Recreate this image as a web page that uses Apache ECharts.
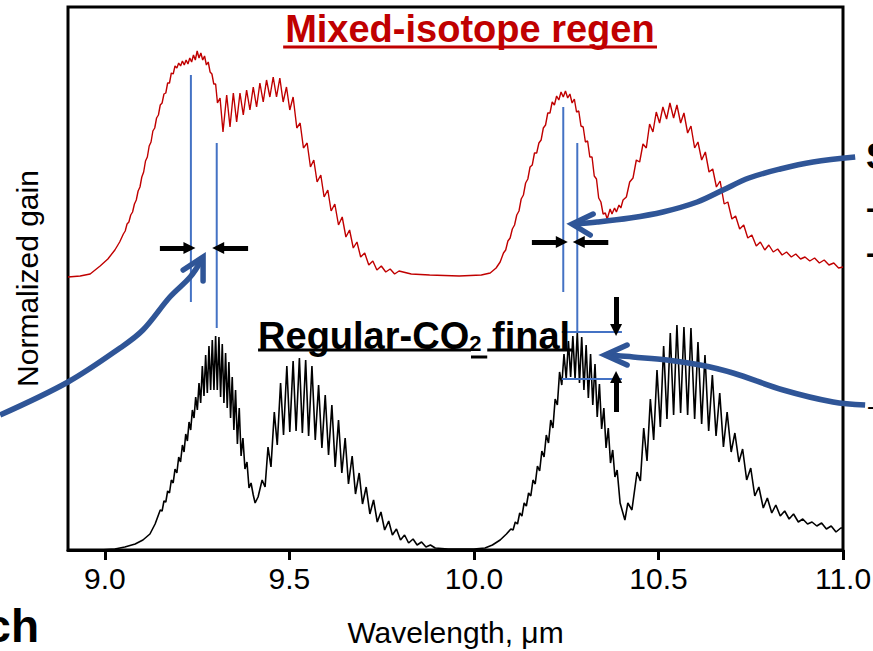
<!DOCTYPE html>
<html><head><meta charset="utf-8">
<script src="https://cdn.jsdelivr.net/npm/echarts@6/dist/echarts.min.js"></script>
<style>html,body{margin:0;padding:0;background:#fff}#c{width:873px;height:651px}</style>
</head><body><div id="c"></div>
<script>
const FONT = 'Liberation Sans, Arial, Helvetica, sans-serif';
const xTicks = [9.0, 9.5, 10.0, 10.5, 11.0];

// Mixed-isotope regen gain spectrum [wavelength µm, normalized gain]
const redRegen = [
[8.900,2.73],[8.933,2.74],[8.960,2.76],[8.987,2.84],[9.008,2.91],[9.027,3.00],[9.040,3.08],
[9.050,3.16],[9.055,3.19],[9.060,3.26],[9.065,3.28],[9.070,3.35],[9.075,3.38],[9.080,3.46],[9.085,3.50],[9.090,3.59],[9.095,3.63],[9.100,3.73],[9.105,3.78],[9.110,3.89],[9.115,3.93],[9.120,4.04],[9.125,4.08],[9.130,4.19],[9.135,4.22],[9.140,4.32],[9.145,4.35],[9.150,4.45],[9.155,4.47],[9.160,4.56],[9.165,4.57],[9.170,4.67],[9.175,4.67],[9.180,4.77],[9.185,4.76],[9.190,4.84],[9.195,4.82],[9.200,4.87],[9.205,4.84],[9.210,4.89],[9.215,4.85],[9.220,4.90],[9.225,4.86],[9.230,4.92],[9.235,4.88],[9.240,4.95],[9.245,4.90],[9.250,4.99],[9.255,4.92],[9.260,4.97],[9.265,4.90],[9.270,4.94],[9.275,4.85],[9.280,4.88],[9.285,4.78],[9.290,4.76],[9.295,4.66],[9.300,4.66],[9.305,4.47],
[9.312,4.52],[9.320,4.18],[9.330,4.55],[9.339,4.23],[9.348,4.57],[9.357,4.28],[9.366,4.57],[9.375,4.35],[9.384,4.60],[9.393,4.40],[9.402,4.63],[9.411,4.43],[9.420,4.67],[9.429,4.48],[9.438,4.70],[9.447,4.53],[9.456,4.73],[9.465,4.53],[9.474,4.72],[9.483,4.48],[9.492,4.63],[9.501,4.40],[9.510,4.53],[9.520,4.22],[9.529,4.27],[9.538,4.02],[9.548,4.07],[9.557,3.83],[9.566,3.90],[9.575,3.68],[9.585,3.75],[9.594,3.53],[9.604,3.60],[9.613,3.39],[9.623,3.46],[9.633,3.25],[9.643,3.33],[9.653,3.13],[9.663,3.20],[9.673,3.02],[9.683,3.08],[9.693,2.93],[9.704,2.97],[9.715,2.85],[9.726,2.89],[9.737,2.80],[9.749,2.84],[9.761,2.78],[9.773,2.81],[9.785,2.76],[9.797,2.79],[9.830,2.76],[9.880,2.75],[9.960,2.74],[10.020,2.75],[10.044,2.77],[10.060,2.82],[10.071,2.88],
[10.080,2.97],[10.086,3.00],[10.092,3.09],[10.098,3.12],[10.104,3.21],[10.110,3.25],[10.116,3.35],[10.122,3.39],[10.128,3.51],[10.134,3.55],[10.140,3.67],[10.146,3.71],[10.152,3.83],[10.158,3.85],[10.164,3.97],[10.170,3.97],[10.176,4.07],[10.182,4.10],[10.188,4.22],[10.194,4.25],[10.200,4.37],[10.206,4.37],[10.212,4.48],[10.218,4.45],[10.224,4.54],[10.230,4.50],[10.236,4.58],[10.242,4.53],[10.248,4.59],[10.254,4.52],[10.260,4.56],[10.266,4.47],[10.272,4.51],[10.278,4.38],[10.284,4.39],[10.290,4.24],[10.296,4.23],[10.302,4.08],[10.308,4.09],[10.314,3.93],[10.320,3.93],[10.326,3.74],[10.332,3.71],[10.338,3.52],[10.344,3.48],[10.350,3.36],[10.356,3.37],[10.361,3.31],[10.369,3.41],[10.374,3.36],[10.381,3.42],[10.386,3.38],[10.393,3.45],[10.398,3.42],
[10.404,3.50],[10.413,3.53],[10.422,3.68],[10.431,3.72],[10.440,3.90],[10.449,3.88],[10.458,4.06],[10.467,4.02],[10.476,4.26],[10.485,4.18],[10.494,4.38],[10.503,4.27],[10.512,4.43],[10.522,4.31],[10.531,4.47],[10.541,4.32],[10.550,4.45],[10.560,4.27],[10.569,4.37],[10.579,4.17],[10.588,4.24],[10.598,4.02],[10.607,4.08],[10.617,3.90],[10.627,3.98],[10.637,3.78],[10.647,3.81],[10.657,3.63],[10.667,3.69],[10.678,3.46],[10.688,3.48],[10.699,3.31],[10.709,3.34],[10.720,3.21],[10.731,3.25],[10.742,3.12],[10.753,3.15],[10.765,3.04],[10.776,3.08],[10.788,3.00],[10.799,3.05],[10.811,2.98],[10.823,3.01],[10.835,2.95],[10.847,2.98],[10.860,2.93],[10.872,2.96],[10.885,2.91],[10.897,2.93],[10.910,2.89],[10.923,2.92],[10.936,2.87],[10.949,2.90],[10.962,2.85],[10.975,2.87],[10.988,2.82],[11.000,2.83]
];

// Regular-CO2 final gain spectrum [wavelength µm, normalized gain]
const blackFinal = [
[8.900,0.00],[8.987,0.00],[9.027,0.01],[9.054,0.03],[9.082,0.06],[9.103,0.10],[9.122,0.16],[9.136,0.26],[9.145,0.35],
[9.150,0.40],[9.155,0.39],[9.160,0.49],[9.165,0.48],[9.170,0.59],[9.175,0.57],[9.180,0.70],[9.185,0.67],[9.190,0.81],[9.195,0.77],[9.200,0.93],[9.205,0.88],[9.210,1.05],[9.2145,0.98],[9.219,1.16],[9.2235,1.09],[9.228,1.28],[9.2325,1.20],[9.237,1.40],[9.2415,1.32],[9.246,1.53],[9.2505,1.40],[9.255,1.67],[9.2595,1.47],[9.264,1.84],[9.2685,1.54],[9.273,1.95],[9.2775,1.57],[9.282,2.04],[9.2865,1.60],[9.291,2.10],[9.2955,1.60],[9.300,2.14],[9.3045,1.60],[9.309,2.13],[9.3135,1.53],[9.318,2.06],[9.3225,1.47],[9.327,1.97],[9.3315,1.42],[9.336,1.88],[9.3405,1.32],[9.345,1.73],[9.3495,1.20],[9.354,1.60],[9.359,1.06],[9.364,1.42],[9.369,0.94],[9.374,1.12],[9.3795,0.81],[9.385,0.88],[9.3905,0.62],[9.396,0.67],[9.402,0.55],[9.407,0.47],[9.415,0.53],
[9.426,0.70],[9.434,0.63],[9.442,1.03],[9.450,0.83],[9.459,1.38],[9.467,1.05],[9.476,1.67],[9.484,1.15],[9.493,1.84],[9.501,1.18],[9.510,1.89],[9.518,1.19],[9.527,1.92],[9.535,1.17],[9.544,1.90],[9.552,1.14],[9.561,1.84],[9.570,1.10],[9.579,1.65],[9.588,1.02],[9.597,1.55],[9.606,0.95],[9.615,1.45],[9.624,0.83],[9.633,1.30],[9.642,0.77],[9.651,1.12],[9.660,0.66],[9.670,0.94],[9.679,0.56],[9.689,0.77],[9.698,0.46],[9.708,0.63],[9.718,0.36],[9.728,0.50],[9.738,0.28],[9.748,0.38],[9.758,0.20],[9.769,0.29],[9.779,0.15],[9.790,0.21],[9.801,0.10],[9.812,0.15],[9.823,0.07],[9.835,0.11],[9.846,0.05],[9.858,0.08],[9.870,0.03],[9.882,0.05],[9.895,0.02],[9.930,0.01],[10.000,0.01],[10.030,0.02],[10.050,0.05],[10.071,0.10],[10.088,0.16],
[10.100,0.21],[10.106,0.20],[10.112,0.28],[10.118,0.26],[10.124,0.37],[10.130,0.34],[10.136,0.47],[10.142,0.44],[10.148,0.57],[10.154,0.54],[10.160,0.70],[10.166,0.66],[10.172,0.84],[10.178,0.79],[10.184,0.99],[10.190,0.93],[10.196,1.15],[10.202,1.07],[10.208,1.30],[10.214,1.22],[10.220,1.51],[10.226,1.45],[10.232,1.78],[10.238,1.65],[10.244,1.96],[10.250,1.71],[10.256,2.09],[10.262,1.73],[10.268,2.14],[10.274,1.71],[10.280,2.18],[10.286,1.67],[10.292,2.13],[10.298,1.60],[10.304,2.05],[10.310,1.52],[10.316,1.96],[10.322,1.45],[10.328,1.86],[10.334,1.33],[10.340,1.66],[10.346,1.21],[10.352,1.42],[10.358,1.02],[10.364,1.22],[10.370,0.87],[10.376,1.00],[10.382,0.73],[10.388,0.80],[10.396,0.47],[10.409,0.30],[10.417,0.47],[10.428,0.40],
[10.442,0.78],[10.451,0.69],[10.460,1.22],[10.469,0.89],[10.478,1.51],[10.487,1.10],[10.496,1.80],[10.505,1.23],[10.514,2.04],[10.523,1.31],[10.532,2.17],[10.541,1.35],[10.550,2.25],[10.560,1.37],[10.569,2.23],[10.579,1.35],[10.588,2.22],[10.598,1.31],[10.607,2.08],[10.617,1.26],[10.626,1.95],[10.636,1.19],[10.646,1.75],[10.656,1.14],[10.666,1.57],[10.676,1.03],[10.686,1.38],[10.697,0.98],[10.707,1.17],[10.718,0.88],[10.728,1.01],[10.739,0.70],[10.750,0.82],[10.761,0.54],[10.772,0.63],[10.784,0.42],[10.795,0.52],[10.807,0.37],[10.818,0.45],[10.830,0.34],[10.842,0.39],[10.854,0.31],[10.866,0.36],[10.879,0.28],[10.891,0.31],[10.904,0.26],[10.916,0.28],[10.929,0.24],[10.942,0.27],[10.955,0.21],[10.968,0.24],[10.981,0.18],[10.994,0.22],[11.000,0.22]
];

// thin blue marker lines (wavelength shift and gain-ripple markers)
const shiftMarkers = [
  [[9.233,4.75],[9.233,2.48]],
  [[9.303,4.07],[9.303,2.22]],
  [[10.242,4.43],[10.242,2.58]],
  [[10.280,4.07],[10.280,2.18]],
  [[10.238,2.18],[10.401,2.18]],
  [[10.238,1.71],[10.401,1.71]]
];
// black arrows [tail, tip]
const gapArrows = [
  [[9.149,3.02],[9.229,3.02]],
  [[9.388,3.02],[9.307,3.02]],
  [[10.157,3.08],[10.238,3.08]],
  [[10.364,3.08],[10.284,3.08]],
  [[10.385,2.53],[10.385,2.20]],
  [[10.385,1.38],[10.385,1.73]]
];
// big blue callout arrows (shaft paths) and chevron heads, in data units
const calloutShafts = [
  [[8.716,1.35],[8.900,1.68],[9.041,2.02],[9.103,2.20],[9.176,2.53],[9.231,2.73],[9.262,2.90]],
  [[11.033,3.93],[10.919,3.88],[10.830,3.81],[10.745,3.72],[10.675,3.60],[10.605,3.48],[10.512,3.38],[10.423,3.32],[10.334,3.28],[10.270,3.26]],
  [[11.060,1.45],[10.973,1.48],[10.838,1.60],[10.702,1.77],[10.613,1.85],[10.523,1.90],[10.431,1.93],[10.369,1.95],[10.358,1.96]]
];
const calloutHeads = [
  [[9.212,2.80],[9.266,2.93],[9.266,2.69]],
  [[10.323,3.36],[10.266,3.26],[10.315,3.15]],
  [[10.415,2.05],[10.355,1.95],[10.415,1.85]]
];
// underlines of the in-plot captions
const captionUnderlines = [
  {color:'#c00000', pts:[[9.483,5.03],[10.496,5.03]]},
  {color:'#000000', pts:[[9.415,2.00],[9.992,2.00]]},
  {color:'#000000', pts:[[9.992,1.93],[10.036,1.93]]},
  {color:'#000000', pts:[[10.036,2.00],[10.271,2.00]]}
];

const chart = echarts.init(document.getElementById('c'), null, {renderer:'svg'});
function lineSeries(data, color, width, extra) {
  return Object.assign({
    type:'line', data:data, showSymbol:false, symbol:'none', silent:true, clip:false,
    animation:false, lineStyle:{color:color, width:width, cap:'butt'}, z:3
  }, extra || {});
}
const series = [
  lineSeries(redRegen, '#c00000', 1.4, {z:2, clip:true}),
  lineSeries(blackFinal, '#000000', 1.6, {z:2, clip:true})
];
shiftMarkers.forEach(d => series.push(lineSeries(d, '#4472c4', 2)));
captionUnderlines.forEach(u => series.push(lineSeries(u.pts, u.color, 3)));
series.push({
  type:'lines', coordinateSystem:'cartesian2d', silent:true, animation:false, z:5,
  symbol:['none','triangle'], symbolSize:[16,12],
  lineStyle:{color:'#000', width:5, opacity:1, curveness:0},
  data: gapArrows.map(c => ({coords:c}))
});

chart.setOption({
  animation:false,
  backgroundColor:'#ffffff',
  textStyle:{fontFamily:FONT},
  grid:{left:68, right:30, top:7, bottom:101, show:true, borderColor:'#000', borderWidth:3, backgroundColor:'transparent', outerBoundsMode:'none', containLabel:false},
  xAxis:{
    type:'value', min:8.9, max:11.0,
    axisLine:{show:true, lineStyle:{color:'#000', width:3}},
    axisTick:{show:true, customValues:xTicks, length:10, lineStyle:{color:'#000', width:3}},
    axisLabel:{show:true, customValues:xTicks, formatter:v => Number(v).toFixed(1), fontSize:30, color:'#000', fontFamily:FONT, margin:13},
    splitLine:{show:false},
    name:'Wavelength, μm', nameLocation:'middle', nameGap:67,
    nameTextStyle:{fontSize:30, color:'#000', fontFamily:FONT}
  },
  yAxis:{
    type:'value', min:0, max:5.43,
    axisLine:{show:false}, axisTick:{show:false}, axisLabel:{show:false}, splitLine:{show:false},
    name:'Normalized gain', nameLocation:'middle', nameGap:26,
    nameTextStyle:{fontSize:30, color:'#000', fontFamily:FONT}
  },
  series:series
});

// callout arrows extend beyond the plot frame: place them through the grid's own scales
const toPx = p => chart.convertToPixel({gridIndex:0}, p);
const BLUE = '#2f5597';
const graphics = [];
calloutShafts.forEach(d => graphics.push({
  type:'polyline', silent:true, z:20,
  shape:{points:d.map(toPx), smooth:0.35},
  style:{stroke:BLUE, lineWidth:5.5, fill:null, lineCap:'butt'}
}));
calloutHeads.forEach(d => graphics.push({
  type:'polyline', silent:true, z:20,
  shape:{points:d.map(toPx)},
  style:{stroke:BLUE, lineWidth:5.5, fill:null, lineCap:'round', lineJoin:'miter'}
}));
const titlePos = toPx([9.989, 5.215]);
const regPos = toPx([9.415, 2.175]);
graphics.push(
  {type:'text', x:titlePos[0], y:titlePos[1], silent:true, z:10,
   style:{text:'Mixed-isotope regen', fill:'#c00000', fontSize:38, fontWeight:'bold', fontFamily:FONT, align:'center', verticalAlign:'middle'}},
  {type:'text', x:regPos[0], y:regPos[1], silent:true, z:10,
   style:{text:'{a|Regular-CO}{s|2}{a| final}', align:'left', verticalAlign:'middle',
     rich:{a:{fontSize:38, fontWeight:'bold', fontFamily:FONT, fill:'#000', lineHeight:44, verticalAlign:'bottom'},
           s:{fontSize:22, fontWeight:'bold', fontFamily:FONT, fill:'#000', lineHeight:18, verticalAlign:'bottom'}}}},
  {type:'text', x:866, y:156, silent:true, style:{text:'S', fontSize:36, fontWeight:'bold', fontFamily:FONT, fill:'#000', align:'left', verticalAlign:'middle'}},
  {type:'text', x:866, y:207, silent:true, style:{text:'-', fontSize:30, fontWeight:'bold', fontFamily:FONT, fill:'#000', align:'left', verticalAlign:'middle'}},
  {type:'text', x:866, y:252, silent:true, style:{text:'-', fontSize:30, fontWeight:'bold', fontFamily:FONT, fill:'#000', align:'left', verticalAlign:'middle'}},
  {type:'text', x:867, y:405, silent:true, style:{text:'-', fontSize:24, fontFamily:FONT, fill:'#000', align:'left', verticalAlign:'middle'}},
  {type:'text', x:39, y:626, silent:true, style:{text:'ch', fontSize:46, fontWeight:'bold', fontFamily:FONT, fill:'#000', align:'right', verticalAlign:'middle'}}
);
chart.setOption({graphic:graphics});
</script>
</body></html>
